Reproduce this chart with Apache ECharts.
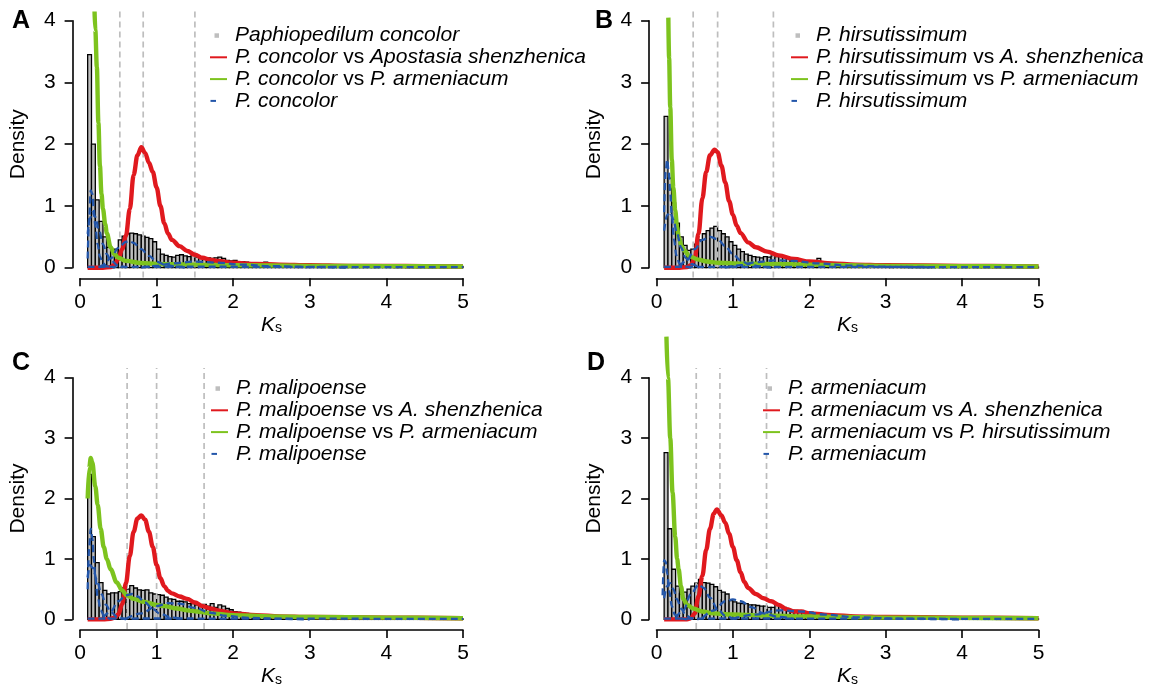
<!DOCTYPE html>
<html>
<head>
<meta charset="utf-8">
<script src="https://cdn.jsdelivr.net/npm/echarts@6/dist/echarts.min.js"></script>
<style>html,body{margin:0;padding:0;background:#fff}#c{width:1170px;height:688px}</style>
</head>
<body>
<div id="c"></div>
<script>
// ---------- data ----------
const BIN_START = 0.1, BIN_W = 0.05;
const X_TICKS = [0, 1, 2, 3, 4, 5];
const Y_TICKS = [0, 1, 2, 3, 4];

const histA = [3.45,2.0,1.1,0.75,0.5,0.33,0.26,0.3,0.45,0.51,0.55,0.56,0.55,0.53,0.51,0.49,0.47,0.42,0.3,0.22,
  0.2,0.18,0.17,0.2,0.21,0.19,0.18,0.2,0.17,0.16,0.15,0.16,0.15,0.16,0.17,0.15,0.12,0.11,0.12,0.1,
  0.1,0.09,0.08,0.08,0.06,0.07,0.09,0.05,0.05,0.04,0.05,0.04,0.04,0.05,0.04,0.03,0.04,0.03,0.04,0.03,
  0.03,0.02,0.03,0.03,0.04,0.03,0.02,0.03,0.03,0.02,0.03,0.02,0.03,0.03,0.02,0.02,0.03,0.04,0.03,0.05,
  0.02,0.03,0.04,0.02,0.03,0.02,0.02,0.03,0.02,0.02,0.02,0.03,0.02,0.02,0.02,0.04,0.02,0.02];
const histB = [2.45,1.45,1.05,0.72,0.5,0.36,0.28,0.3,0.38,0.45,0.55,0.6,0.64,0.67,0.6,0.55,0.5,0.42,0.36,0.3,
  0.26,0.22,0.2,0.18,0.17,0.16,0.18,0.17,0.19,0.18,0.2,0.17,0.16,0.14,0.15,0.13,0.12,0.11,0.1,0.09,
  0.15,0.08,0.07,0.07,0.06,0.05,0.06,0.05,0.04,0.05,0.04,0.04,0.03,0.04,0.03,0.03,0.04,0.03,0.03,0.02,
  0.03,0.03,0.02,0.03,0.02,0.03,0.02,0.02,0.03,0.02,0.02,0.03,0.02,0.02,0.02,0.03,0.02,0.02,0.02,0.02,
  0.03,0.02,0.02,0.01,0.02,0.02,0.02,0.01,0.02,0.02,0.01,0.02,0.01,0.02,0.01,0.01,0.02,0.01];
const histC = [2.4,1.37,0.94,0.61,0.48,0.42,0.44,0.44,0.46,0.52,0.5,0.56,0.52,0.49,0.48,0.49,0.44,0.42,0.41,0.4,
  0.37,0.34,0.33,0.3,0.3,0.29,0.26,0.26,0.24,0.23,0.25,0.22,0.26,0.2,0.24,0.22,0.18,0.16,0.13,0.12,
  0.11,0.1,0.09,0.08,0.08,0.07,0.07,0.06,0.06,0.05,0.05,0.05,0.04,0.05,0.04,0.04,0.03,0.04,0.03,0.03,
  0.03,0.03,0.02,0.03,0.02,0.03,0.02,0.02,0.03,0.02,0.02,0.02,0.02,0.02,0.02,0.02,0.01,0.02,0.02,0.01,
  0.02,0.01,0.02,0.01,0.01,0.02,0.01,0.01,0.01,0.02,0.01,0.01,0.01,0.01,0.01,0.01,0.01,0.01];
const histD = [2.76,1.5,0.83,0.55,0.42,0.45,0.5,0.55,0.6,0.66,0.61,0.6,0.58,0.54,0.48,0.45,0.42,0.31,0.29,0.27,
  0.26,0.26,0.24,0.24,0.23,0.22,0.22,0.2,0.2,0.26,0.22,0.2,0.17,0.15,0.15,0.13,0.12,0.11,0.12,0.1,
  0.1,0.09,0.09,0.08,0.08,0.08,0.07,0.08,0.07,0.06,0.06,0.05,0.05,0.05,0.04,0.05,0.04,0.04,0.04,0.03,
  0.04,0.03,0.03,0.03,0.04,0.03,0.03,0.02,0.03,0.03,0.02,0.03,0.02,0.02,0.03,0.02,0.02,0.02,0.02,0.02,
  0.02,0.02,0.02,0.01,0.02,0.02,0.01,0.02,0.02,0.01,0.02,0.01,0.02,0.01,0.01,0.02,0.01,0.01];

const redA = [[0.1,0],[0.3,0],[0.4,0.01],[0.45,0.05],[0.5,0.14],[0.55,0.3],[0.6,0.52],[0.65,0.95],[0.7,1.5],[0.75,1.82],[0.8,1.95],[0.85,1.86],[0.9,1.7],[0.95,1.55],[1.0,1.3],[1.05,1.0],[1.1,0.72],[1.15,0.55],[1.2,0.45],[1.3,0.35],[1.4,0.27],[1.5,0.21],[1.6,0.16],[1.7,0.13],[1.8,0.11],[2.0,0.08],[2.3,0.06],[2.6,0.05],[3,0.04],[3.5,0.03],[4,0.03],[4.5,0.025],[5,0.02]];
const redB = [[0.1,0],[0.3,0],[0.4,0.01],[0.45,0.04],[0.5,0.15],[0.55,0.55],[0.6,1.12],[0.65,1.55],[0.7,1.82],[0.76,1.91],[0.8,1.87],[0.85,1.65],[0.9,1.38],[0.95,1.08],[1.0,0.86],[1.05,0.68],[1.1,0.56],[1.2,0.41],[1.3,0.33],[1.45,0.26],[1.6,0.2],[1.8,0.14],[2.0,0.1],[2.3,0.07],[2.6,0.05],[3,0.04],[4,0.03],[5,0.02]];
const redC = [[0.1,0],[0.3,0],[0.4,0.01],[0.45,0.03],[0.5,0.08],[0.55,0.25],[0.6,0.6],[0.65,1.05],[0.7,1.45],[0.75,1.67],[0.8,1.72],[0.85,1.65],[0.9,1.45],[0.95,1.2],[1.0,0.9],[1.05,0.68],[1.1,0.55],[1.15,0.47],[1.2,0.43],[1.3,0.38],[1.4,0.34],[1.5,0.28],[1.6,0.22],[1.7,0.18],[1.8,0.15],[2.0,0.1],[2.3,0.07],[2.6,0.05],[3,0.04],[4,0.03],[5,0.02]];
const redD = [[0.1,0],[0.3,0],[0.4,0],[0.45,0.02],[0.5,0.1],[0.55,0.38],[0.6,0.72],[0.65,1.15],[0.7,1.5],[0.75,1.75],[0.79,1.82],[0.85,1.72],[0.9,1.6],[0.95,1.42],[1.0,1.2],[1.05,0.98],[1.1,0.78],[1.15,0.62],[1.2,0.52],[1.3,0.42],[1.4,0.35],[1.5,0.3],[1.6,0.24],[1.7,0.17],[1.8,0.13],[1.9,0.13],[2.0,0.1],[2.3,0.07],[2.6,0.05],[3,0.04],[4,0.03],[5,0.02]];

const greenA = [[0.19,4.15],[0.2,3.85],[0.22,3.25],[0.24,2.35],[0.26,1.65],[0.28,1.2],[0.3,0.95],[0.33,0.7],[0.35,0.56],[0.4,0.33],[0.45,0.22],[0.5,0.16],[0.6,0.11],[0.8,0.075],[1.0,0.06],[1.5,0.05],[2,0.04],[3,0.03],[4,0.025],[5,0.02]];
const greenB = [[0.155,4.05],[0.165,3.4],[0.18,2.6],[0.2,1.75],[0.22,1.3],[0.245,0.93],[0.27,0.65],[0.29,0.5],[0.33,0.35],[0.36,0.28],[0.44,0.18],[0.55,0.13],[0.66,0.1],[0.8,0.08],[1.0,0.07],[1.5,0.06],[2,0.05],[3,0.03],[4,0.025],[5,0.02]];
const greenC = [[0.1,2.0],[0.12,2.5],[0.14,2.67],[0.16,2.6],[0.2,2.2],[0.23,1.9],[0.27,1.5],[0.31,1.2],[0.35,1.0],[0.4,0.83],[0.48,0.61],[0.55,0.48],[0.61,0.4],[0.7,0.34],[0.84,0.29],[1.0,0.24],[1.1,0.22],[1.27,0.18],[1.4,0.15],[1.53,0.13],[1.7,0.1],[2.0,0.07],[2.5,0.05],[3,0.04],[4,0.03],[5,0.02]];
const greenD = [[0.13,4.68],[0.15,4.0],[0.18,3.0],[0.21,2.1],[0.245,1.37],[0.27,1.0],[0.29,0.83],[0.32,0.55],[0.35,0.34],[0.4,0.24],[0.48,0.18],[0.6,0.13],[0.74,0.1],[1.0,0.08],[1.5,0.06],[2,0.05],[3,0.03],[4,0.025],[5,0.02]];

const blueA = [
  [[0.1,0.15],[0.12,0.8],[0.14,1.25],[0.16,1.2],[0.18,0.95],[0.2,0.68],[0.23,0.38],[0.26,0.18],[0.3,0.07],[0.35,0.02],[0.45,0]],
  [[0.1,0.55],[0.13,0.8],[0.16,0.9],[0.2,0.82],[0.25,0.6],[0.3,0.38],[0.35,0.22],[0.4,0.12],[0.5,0.03],[0.6,0.005]],
  [[0.25,0],[0.3,0.04],[0.4,0.15],[0.5,0.32],[0.6,0.42],[0.65,0.43],[0.7,0.4],[0.8,0.3],[0.9,0.19],[1.0,0.1],[1.1,0.05],[1.25,0.015],[1.4,0]],
  [[0.8,0],[1.0,0.03],[1.2,0.07],[1.5,0.1],[1.8,0.08],[2.1,0.05],[2.5,0.025],[3,0.01],[3.5,0.003]],
  [[0.1,0.012],[1,0.015],[2,0.015],[3,0.012],[4,0.01],[5,0.008]]
];
const blueB = [
  [[0.1,0.9],[0.12,1.55],[0.14,1.75],[0.16,1.55],[0.18,1.2],[0.2,0.85],[0.23,0.45],[0.26,0.2],[0.3,0.07],[0.35,0.02],[0.45,0]],
  [[0.1,0.6],[0.14,0.85],[0.18,0.9],[0.22,0.78],[0.27,0.55],[0.32,0.33],[0.38,0.16],[0.45,0.06],[0.55,0.01]],
  [[0.3,0.02],[0.4,0.12],[0.5,0.3],[0.6,0.45],[0.7,0.5],[0.8,0.46],[0.9,0.35],[1.0,0.22],[1.1,0.12],[1.2,0.06],[1.35,0.02],[1.5,0]],
  [[0.9,0],[1.1,0.04],[1.3,0.09],[1.55,0.12],[1.8,0.11],[2.1,0.07],[2.5,0.035],[3,0.015],[3.6,0.005]],
  [[0.1,0.012],[1,0.015],[2,0.014],[3,0.012],[4,0.01],[5,0.008]]
];
const blueC = [
  [[0.1,0.5],[0.12,1.2],[0.14,1.5],[0.16,1.35],[0.18,1.0],[0.2,0.7],[0.23,0.38],[0.27,0.15],[0.32,0.04],[0.4,0]],
  [[0.1,0.7],[0.13,0.9],[0.17,0.85],[0.22,0.65],[0.28,0.42],[0.34,0.24],[0.4,0.12],[0.5,0.03],[0.6,0]],
  [[0.3,0.03],[0.4,0.13],[0.5,0.3],[0.6,0.4],[0.68,0.42],[0.75,0.38],[0.85,0.28],[0.95,0.17],[1.05,0.09],[1.2,0.03],[1.35,0]],
  [[0.6,0.01],[0.8,0.1],[1.0,0.22],[1.15,0.27],[1.3,0.26],[1.5,0.19],[1.7,0.11],[1.9,0.06],[2.2,0.025],[2.6,0.008],[3,0]],
  [[0.1,0.012],[1,0.015],[2,0.014],[3,0.012],[4,0.01],[5,0.008]]
];
const blueD = [
  [[0.08,0.4],[0.1,0.98],[0.12,0.95],[0.14,0.75],[0.17,0.45],[0.2,0.22],[0.24,0.08],[0.3,0.02],[0.4,0]],
  [[0.1,0.35],[0.14,0.55],[0.18,0.6],[0.22,0.5],[0.27,0.33],[0.32,0.18],[0.38,0.08],[0.45,0.02],[0.55,0]],
  [[0.25,0.02],[0.35,0.15],[0.45,0.42],[0.55,0.57],[0.62,0.52],[0.7,0.36],[0.8,0.17],[0.9,0.06],[1.0,0.01]],
  [[0.6,0.02],[0.75,0.15],[0.9,0.3],[1.0,0.33],[1.1,0.3],[1.25,0.2],[1.4,0.1],[1.6,0.04],[1.8,0.01]],
  [[1.0,0.01],[1.3,0.08],[1.6,0.15],[1.9,0.13],[2.2,0.08],[2.6,0.035],[3.2,0.01],[4,0]],
  [[0.1,0.012],[1,0.015],[2,0.014],[3,0.012],[4,0.01],[5,0.008]]
];

const vlinesA = [0.52, 0.825, 1.50];
const vlinesB = [0.48, 0.80, 1.53];
const vlinesC = [0.615, 1.0, 1.62];
const vlinesD = [0.52, 0.83, 1.44];

const legendA = ['{i|Paphiopedilum concolor}', '{i|P. concolor} vs {i|Apostasia shenzhenica}', '{i|P. concolor} vs {i|P. armeniacum}', '{i|P. concolor}'];
const legendB = ['{i|P. hirsutissimum}', '{i|P. hirsutissimum} vs {i|A. shenzhenica}', '{i|P. hirsutissimum} vs {i|P. armeniacum}', '{i|P. hirsutissimum}'];
const legendC = ['{i|P. malipoense}', '{i|P. malipoense} vs {i|A. shenzhenica}', '{i|P. malipoense} vs {i|P. armeniacum}', '{i|P. malipoense}'];
const legendD = ['{i|P. armeniacum}', '{i|P. armeniacum} vs {i|A. shenzhenica}', '{i|P. armeniacum} vs {i|P. hirsutissimum}', '{i|P. armeniacum}'];

// ---------- style / layout ----------
const FONT = '"Liberation Sans", Arial, Helvetica, sans-serif';
const C_RED = '#E0191E', C_GREEN = '#7DC31E', C_BLUE = '#2356AA', C_GRAY = '#BEBEBE';
const panels = [
  {id:'A', hist:histA, red:redA, green:greenA, blue:blueA, vl:vlinesA, leg:legendA,
   grid:{left:80, top:20.7, width:383, height:247}, legPos:{left:206, top:25}, letter:[21,21.5]},
  {id:'B', hist:histB, red:redB, green:greenB, blue:blueB, vl:vlinesB, leg:legendB,
   grid:{left:656.5, top:20.7, width:382, height:247}, legPos:{left:787, top:25}, letter:[604,21.5]},
  {id:'C', hist:histC, red:redC, green:greenC, blue:blueC, vl:vlinesC, leg:legendC,
   grid:{left:80, top:377.7, width:383, height:246.8}, legPos:{left:207, top:378}, letter:[21,363.5]},
  {id:'D', hist:histD, red:redD, green:greenD, blue:blueD, vl:vlinesD, leg:legendD,
   grid:{left:656.5, top:377.7, width:382, height:246.8}, legPos:{left:759, top:378}, letter:[596,363.5]}
];

const ICON_SQ = 'path://M0,0M24,20M8.5,7.8h4.5v4.5h-4.5z';
const ICON_LINE = 'path://M0,0M24,20M4,9h17v2h-17z';
const ICON_DASH = 'path://M0,0M24,20M4.5,9h5.5v2h-5.5z';

const grids = [], xAxes = [], yAxes = [], series = [], legends = [], graphics = [];
const labelMap = {};

panels.forEach((p, k) => {
  grids.push(p.grid);
  xAxes.push({
    gridIndex:k, type:'value', min:X_TICKS[0], max:X_TICKS[X_TICKS.length-1], interval:1,
    offset:10.6, position:'bottom',
    axisLine:{show:true, onZero:false, lineStyle:{color:'#000', width:1.6}},
    axisTick:{show:true, length:8, lineStyle:{color:'#000', width:1.6}},
    axisLabel:{fontSize:21, color:'#000', fontFamily:FONT, margin:13},
    splitLine:{show:false},
    name:'{k|K}{s|s}', nameLocation:'middle', nameGap:33,
    nameTextStyle:{color:'#000', rich:{
      k:{fontSize:21, fontStyle:'italic', fontFamily:FONT, color:'#000', lineHeight:24, verticalAlign:'bottom'},
      s:{fontSize:14, fontFamily:FONT, color:'#000', lineHeight:9, verticalAlign:'bottom'}}}
  });
  yAxes.push({
    gridIndex:k, type:'value', min:Y_TICKS[0], max:Y_TICKS[Y_TICKS.length-1], interval:1,
    offset:7.4, position:'left',
    axisLine:{show:true, onZero:false, lineStyle:{color:'#000', width:1.6}},
    axisTick:{show:true, length:8, lineStyle:{color:'#000', width:1.6}},
    axisLabel:{fontSize:21, color:'#000', fontFamily:FONT, margin:17},
    splitLine:{show:false},
    name:'Density', nameLocation:'middle', nameGap:44,
    nameTextStyle:{fontSize:21, color:'#000', fontFamily:FONT}
  });
  const nHist = p.id + '_hist', nRed = p.id + '_red', nGreen = p.id + '_green', nBlue = p.id + '_blue';
  labelMap[nHist] = p.leg[0]; labelMap[nRed] = p.leg[1]; labelMap[nGreen] = p.leg[2]; labelMap[nBlue] = p.leg[3];

  series.push({
    name:nHist, type:'custom', xAxisIndex:k, yAxisIndex:k, clip:false,
    data:p.hist.map((v, i) => [BIN_START + i*BIN_W, v]),
    encode:{x:0, y:1},
    renderItem:(params, api) => {
      const x0 = api.value(0), y = api.value(1);
      const a = api.coord([x0, 0]), b = api.coord([x0 + BIN_W, y]);
      return {type:'rect', shape:{x:a[0], y:b[1], width:b[0]-a[0], height:a[1]-b[1]},
        style:{fill:C_GRAY, stroke:'#000', lineWidth:1.3}};
    }
  });
  series.push({
    name:p.id + '_vl', type:'custom', xAxisIndex:k, yAxisIndex:k, clip:false,
    data:p.vl.map(v => [v]), encode:{x:0},
    renderItem:(params, api) => {
      const x = api.value(0);
      const a = api.coord([x, -0.16]), b = api.coord([x, 4.16]);
      return {type:'line', shape:{x1:a[0], y1:a[1], x2:b[0], y2:b[1]},
        style:{stroke:C_GRAY, lineWidth:1.7, lineDash:[6,4]}};
    }
  });
  series.push({name:nRed, type:'line', xAxisIndex:k, yAxisIndex:k, data:p.red, clip:false,
    symbol:'none', smooth:0.35, smoothMonotone:'x', lineStyle:{color:C_RED, width:4.4}, itemStyle:{color:C_RED}});
  series.push({name:nGreen, type:'line', xAxisIndex:k, yAxisIndex:k, data:p.green, clip:false,
    symbol:'none', smooth:0.35, smoothMonotone:'x', lineStyle:{color:C_GREEN, width:4.4}, itemStyle:{color:C_GREEN}});
  p.blue.forEach(comp => {
    series.push({name:nBlue, type:'line', xAxisIndex:k, yAxisIndex:k, data:comp, clip:false,
      symbol:'none', smooth:0.35, smoothMonotone:'x', lineStyle:{color:C_BLUE, width:2.3, type:[7,4]}, itemStyle:{color:C_BLUE}});
  });

  legends.push({
    orient:'vertical', left:p.legPos.left, top:p.legPos.top, itemWidth:24, itemHeight:20, itemGap:0.8,
    selectedMode:false, padding:0,
    itemStyle:{borderWidth:0},
    data:[
      {name:nHist, icon:ICON_SQ, itemStyle:{color:C_GRAY, borderWidth:0}},
      {name:nRed, icon:ICON_LINE, itemStyle:{color:C_RED, borderWidth:0}},
      {name:nGreen, icon:ICON_LINE, itemStyle:{color:C_GREEN, borderWidth:0}},
      {name:nBlue, icon:ICON_DASH, itemStyle:{color:C_BLUE, borderWidth:0}}
    ],
    formatter:name => labelMap[name],
    textStyle:{fontSize:21, fontFamily:FONT, color:'#000', lineHeight:20.8,
      rich:{i:{fontSize:21, fontStyle:'italic', fontFamily:FONT, color:'#000', lineHeight:20.8}}}
  });

  graphics.push({type:'text', x:p.letter[0], y:p.letter[1],
    style:{text:p.id, font:'bold 25px ' + FONT, fill:'#000', textAlign:'center', textVerticalAlign:'middle'}});
});

const chart = echarts.init(document.getElementById('c'), null, {renderer:'canvas'});
chart.setOption({
  animation:false,
  backgroundColor:'#fff',
  grid:grids, xAxis:xAxes, yAxis:yAxes, series:series, legend:legends, graphic:graphics,
  tooltip:{show:false}
});
</script>
</body>
</html>
